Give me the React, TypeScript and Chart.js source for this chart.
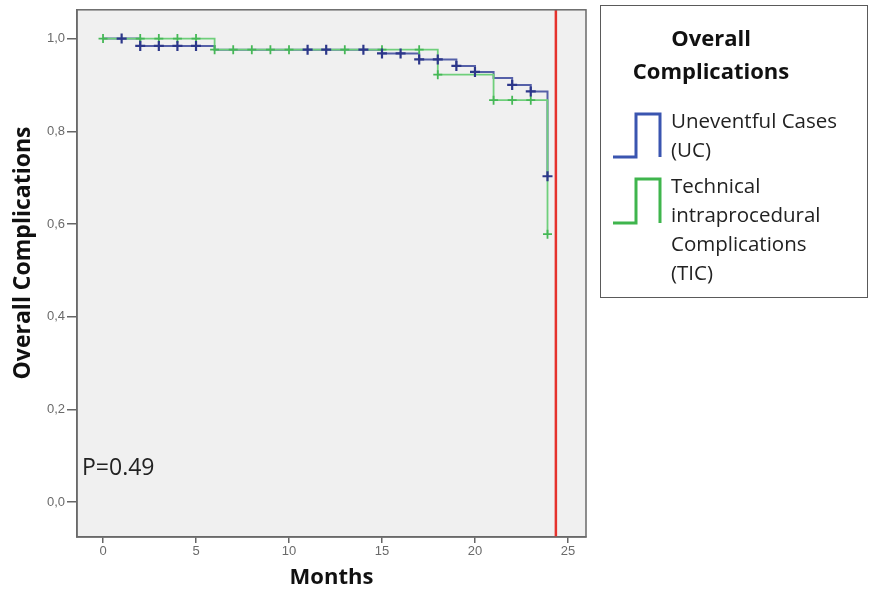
import React, { useEffect, useRef } from "react";
import { Chart, registerables } from "chart.js";
Chart.register(...registerables);

// Kaplan-Meier step data (months, cumulative proportion)
const ucTimes = [0, 2, 6, 15, 17, 19, 20, 21, 22, 23, 23.9];
const ucSurv = [1.0, 0.984, 0.976, 0.968, 0.955, 0.941, 0.928, 0.915, 0.9, 0.886, 0.703];
const ucCensorTimes = [1, 2, 3, 4, 5, 11, 12, 14, 15, 16, 17, 18, 19, 20, 22, 23, 23.9];

const ticTimes = [0, 6, 18, 21, 23.9];
const ticSurv = [1.0, 0.976, 0.922, 0.867, 0.578];
const ticCensorTimes = [0, 2, 3, 4, 5, 6, 7, 8, 9, 10, 13, 15, 17, 18, 21, 22, 23, 23.9];

const cutoffMonth = 24.35;
const xTicks = [0, 5, 10, 15, 20, 25];
const yTicks = [0, 0.2, 0.4, 0.6, 0.8, 1.0];
const xRange = [-1.4, 25.97];
const yRange = [-0.075, 1.062];

const legendTitle = ["Overall", "Complications"];
const ucLabel = ["Uneventful Cases", "(UC)"];
const ticLabel = ["Technical", "intraprocedural", "Complications", "(TIC)"];
const xTitle = "Months";
const yTitle = "Overall Complications";
const pValueText = "P=0.49";

const UC_LINE = "#5560a8";
const UC_MARK = "#2c378a";
const TIC_LINE = "#6fcf7b";
const TIC_MARK = "#45b856";
const RED = "#e5322d";
const LEG_BLUE = "#3a55b0";
const LEG_GREEN = "#3fb54d";

const survAt = (times: number[], surv: number[], t: number) => {
  let v = surv[0];
  for (let i = 0; i < times.length; i++) if (times[i] <= t) v = surv[i];
  return v;
};

const FONT = "'Open Sans', 'Noto Sans', sans-serif";

const decor = {
  id: "decor",
  beforeDraw(chart: any) {
    const { ctx, chartArea: a } = chart;
    ctx.save();
    ctx.fillStyle = "#ffffff";
    ctx.fillRect(0, 0, chart.width, chart.height);
    ctx.fillStyle = "#f0f0f0";
    ctx.fillRect(a.left, a.top, a.right - a.left, a.bottom - a.top);
    ctx.restore();
  },
  afterDraw(chart: any) {
    const { ctx, chartArea: a } = chart;
    ctx.save();
    // plot frame
    ctx.strokeStyle = "#6a6a6a";
    ctx.lineWidth = 1.5;
    ctx.strokeRect(a.left, a.top, a.right - a.left, a.bottom - a.top);

    // y title
    ctx.save();
    ctx.translate(23, 253);
    ctx.rotate(-Math.PI / 2);
    ctx.fillStyle = "#111";
    ctx.font = `bold 23px ${FONT}`;
    ctx.textAlign = "center";
    ctx.textBaseline = "middle";
    ctx.fillText(yTitle, 0, 0);
    ctx.restore();

    // p value
    ctx.fillStyle = "#222";
    ctx.font = `23px ${FONT}`;
    ctx.textAlign = "left";
    ctx.textBaseline = "middle";
    ctx.fillText(pValueText, a.left + 5, 468);

    // legend box
    ctx.strokeStyle = "#5a5a5a";
    ctx.lineWidth = 1;
    ctx.strokeRect(600.5, 5.5, 267, 292);
    ctx.fillStyle = "#111";
    ctx.font = `bold 22px ${FONT}`;
    ctx.textAlign = "center";
    legendTitle.forEach((t, i) => ctx.fillText(t, 711, 40 + i * 33));

    const drawStep = (color: string, yTop: number, yBot: number) => {
      ctx.strokeStyle = color;
      ctx.lineWidth = 3;
      ctx.lineJoin = "miter";
      ctx.beginPath();
      ctx.moveTo(613, yBot);
      ctx.lineTo(636, yBot);
      ctx.lineTo(636, yTop);
      ctx.lineTo(660, yTop);
      ctx.lineTo(660, yBot);
      ctx.stroke();
    };
    drawStep(LEG_BLUE, 114, 157);
    drawStep(LEG_GREEN, 179, 223);

    ctx.fillStyle = "#222";
    ctx.font = `20.5px ${FONT}`;
    ctx.textAlign = "left";
    ucLabel.forEach((t, i) => ctx.fillText(t, 671, 122 + i * 29));
    ticLabel.forEach((t, i) => ctx.fillText(t, 671, 187 + i * 29));
    ctx.restore();
  },
};

export default function App() {
  const ref = useRef<HTMLCanvasElement | null>(null);
  useEffect(() => {
    document.body.style.margin = "0";
    const canvas = ref.current!;
    const ucLine = ucTimes.map((t, i) => ({ x: t, y: ucSurv[i] }));
    const ticLine = ticTimes.map((t, i) => ({ x: t, y: ticSurv[i] }));
    const ucCens = ucCensorTimes.map((t) => ({ x: t, y: survAt(ucTimes, ucSurv, t) }));
    const ticCens = ticCensorTimes.map((t) => ({ x: t, y: survAt(ticTimes, ticSurv, t) }));
    const chart = new Chart(canvas, {
      type: "line",
      data: {
        datasets: [
          {
            label: "cutoff",
            data: [
              { x: cutoffMonth, y: yRange[0] },
              { x: cutoffMonth, y: yRange[1] },
            ],
            borderColor: RED,
            borderWidth: 2.5,
            pointRadius: 0,
            order: 0,
          },
          {
            label: "UC censored",
            data: ucCens,
            showLine: false,
            pointStyle: "cross",
            pointRadius: 5,
            borderWidth: 2.2,
            borderColor: UC_MARK,
            backgroundColor: UC_MARK,
            order: 1,
          },
          {
            label: "TIC censored",
            data: ticCens,
            showLine: false,
            pointStyle: "cross",
            pointRadius: 4.5,
            borderWidth: 1.8,
            borderColor: TIC_MARK,
            backgroundColor: TIC_MARK,
            order: 2,
          },
          {
            label: "TIC",
            data: ticLine,
            stepped: "before",
            borderColor: TIC_LINE,
            borderWidth: 1.8,
            pointRadius: 0,
            order: 3,
          },
          {
            label: "UC",
            data: ucLine,
            stepped: "before",
            borderColor: UC_LINE,
            borderWidth: 2,
            pointRadius: 0,
            order: 4,
          },
        ],
      },
      options: {
        responsive: false,
        animation: false,
        devicePixelRatio: 1,
        layout: { padding: { left: 0, top: 8, right: 285, bottom: 0 } },
        plugins: { legend: { display: false }, tooltip: { enabled: false } },
        scales: {
          x: {
            type: "linear",
            min: xRange[0],
            max: xRange[1],
            afterBuildTicks: (s: any) => {
              s.ticks = xTicks.map((v) => ({ value: v }));
            },
            afterFit: (s: any) => {
              s.height = 53;
            },
            ticks: {
              color: "#6a6a6a",
              font: { family: "'Liberation Sans', sans-serif", size: 13 },
              padding: 1,
              maxRotation: 0,
              callback: (v: any) => String(v),
            },
            grid: { drawOnChartArea: false, drawTicks: true, tickLength: 6, color: "#666", lineWidth: 1.5 },
            border: { display: true, color: "#6a6a6a", width: 1.5 },
            title: {
              display: true,
              text: xTitle,
              color: "#111",
              font: { family: FONT, size: 22, weight: "bold" },
              padding: { top: 0, bottom: -1 },
            },
          },
          y: {
            type: "linear",
            min: yRange[0],
            max: yRange[1],
            afterBuildTicks: (s: any) => {
              s.ticks = yTicks.map((v) => ({ value: v }));
            },
            afterFit: (s: any) => {
              s.width = 77;
            },
            ticks: {
              color: "#6a6a6a",
              font: { family: "'Liberation Sans', sans-serif", size: 13 },
              padding: 2,
              callback: (v: any) => Number(v).toFixed(1).replace(".", ","),
            },
            grid: { drawOnChartArea: false, drawTicks: true, tickLength: 10, color: "#666", lineWidth: 1.5 },
            border: { display: true, color: "#6a6a6a", width: 1.5 },
          },
        },
      },
      plugins: [decor],
    } as any);
    return () => chart.destroy();
  }, []);
  return (
    <div style={{ width: 871, height: 590 }}>
      <canvas ref={ref} width={871} height={590} style={{ display: "block", width: 871, height: 590 }} />
    </div>
  );
}
